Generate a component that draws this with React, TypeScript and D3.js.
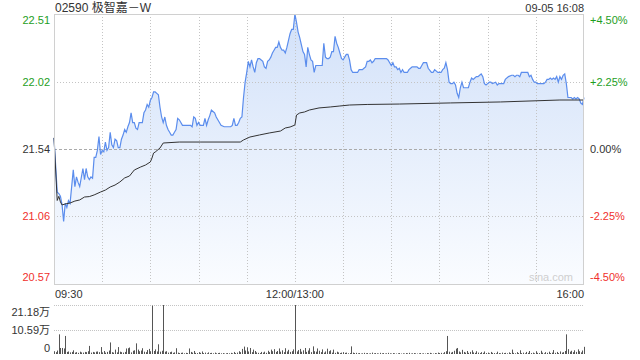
import React from "react";
import * as d3 from "d3";

const title = "02590 极智嘉－W";
const stamp = "09-05 16:08";
const prevClose = 21.54;
const priceTicks = [22.51, 22.02, 21.54, 21.06, 20.57];
const pctTicks = ["+4.50%", "+2.25%", "0.00%", "-2.25%", "-4.50%"];
const timeLabels = ["09:30", "12:00/13:00", "16:00"];
const volTicks = [21.18, 10.59, 0];
const volTickLabels = ["21.18万", "10.59万", "0"];

const priceMin = [0,2,3,4,5,6,7,8,9,10,12,13,14,15,16,18,19,20,21,22,23,24,25,26,27,28,29,30,31,32,33,34,35,36,37,38,39,40,41,42,43,44,45,46,47,48,49,50,51,52,53,55,56,57,58,59,60,61,62,63,64,65,66,67,68,69,70,71,72,73,74,75,76,77,78,80,83,85,86,87,88,89,90,91,93,94,95,96,97,98,99,100,101,102,103,104,106,110,111,112,113,114,115,116,117,118,119,120,121,122,123,124,125,126,127,128,129,130,131,132,133,134,135,136,137,138,139,140,141,142,143,144,145,146,147,148,149,150,151,152,153,154,155,156,157,158,159,160,161,162,163,164,166,167,168,169,170,171,172,173,174,175,176,177,178,179,180,181,182,183,184,185,186,187,189,190,192,193,194,195,196,197,198,199,200,201,207,208,209,210,211,212,213,214,215,216,217,218,220,221,222,223,225,226,227,228,229,230,232,233,235,236,237,239,241,242,243,244,245,246,247,248,249,250,251,252,253,254,255,256,257,258,259,260,261,262,263,264,265,266,267,268,269,270,271,272,273,275,276,277,278,280,281,283,285,286,287,288,289,290,291,292,294,295,296,297,298,299,300,301,305,306,307,308,309,310,311,312,313,314,315,316,317,318,319,320,321,322,323,324,325,326,327,328,329,330];
const priceVal = [21.62,21.23,21.22,21.20,21.14,21.02,21.15,21.12,21.17,21.15,21.39,21.27,21.34,21.30,21.27,21.40,21.32,21.40,21.34,21.32,21.34,21.33,21.48,21.48,21.53,21.63,21.50,21.53,21.52,21.59,21.53,21.55,21.66,21.57,21.55,21.61,21.60,21.55,21.55,21.61,21.64,21.68,21.66,21.70,21.73,21.80,21.73,21.73,21.69,21.68,21.73,21.73,21.80,21.82,21.86,21.84,21.89,21.91,21.95,21.95,21.94,21.93,21.84,21.77,21.73,21.77,21.71,21.68,21.66,21.64,21.64,21.66,21.68,21.76,21.75,21.71,21.71,21.71,21.70,21.77,21.76,21.71,21.73,21.71,21.71,21.76,21.71,21.75,21.78,21.82,21.81,21.80,21.77,21.75,21.73,21.71,21.70,21.70,21.71,21.76,21.71,21.71,21.73,21.76,21.77,21.91,22.02,22.09,22.17,22.13,22.18,22.13,22.09,22.16,22.19,22.19,22.18,22.17,22.13,22.12,22.17,22.18,22.20,22.23,22.25,22.27,22.27,22.31,22.27,22.25,22.25,22.23,22.27,22.32,22.37,22.40,22.40,22.51,22.45,22.38,22.34,22.29,22.24,22.22,22.13,22.27,22.22,22.18,22.17,22.09,22.14,22.14,22.14,22.14,22.30,22.20,22.19,22.19,22.20,22.24,22.24,22.35,22.30,22.27,22.23,22.19,22.18,22.20,22.22,22.22,22.18,22.11,22.09,22.09,22.09,22.11,22.11,22.12,22.13,22.17,22.17,22.18,22.16,22.17,22.19,22.19,22.19,22.18,22.16,22.14,22.16,22.13,22.13,22.11,22.12,22.09,22.11,22.09,22.09,22.11,22.12,22.13,22.13,22.13,22.12,22.12,22.14,22.16,22.16,22.12,22.09,22.09,22.11,22.09,22.09,22.11,22.12,22.16,22.11,22.02,22.01,22.01,22.02,22.00,21.94,21.91,21.98,22.02,21.98,21.98,21.98,21.98,22.02,22.05,22.04,22.05,22.06,22.06,22.07,22.08,22.06,22.01,22.00,22.01,22.02,22.02,22.01,22.02,22.00,22.01,22.01,22.01,22.04,22.06,22.07,22.07,22.06,22.07,22.07,22.06,22.09,22.09,22.09,22.09,22.06,22.07,22.04,22.02,22.02,22.01,22.01,22.02,22.04,22.04,22.05,22.04,22.05,22.04,22.06,22.02,22.06,22.04,22.07,22.08,22.01,21.91,21.91,21.91,21.90,21.91,21.90,21.91,21.90,21.87,21.86,21.91];

const avgMin = [0,2,3,4,5,7,10,13,16,19,22,25,29,32,35,38,41,44,47,50,54,57,60,61,62,63,66,68,78,91,116,118,122,128,134,141,144,147,150,151,153,156,159,165,172,178,184,195,215,247,278,315,330];
const avgVal = [21.62,21.17,21.2,21.16,21.138,21.145,21.152,21.166,21.174,21.195,21.198,21.21,21.231,21.245,21.267,21.281,21.303,21.332,21.346,21.389,21.411,21.425,21.447,21.475,21.511,21.518,21.547,21.583,21.59,21.59,21.59,21.605,21.626,21.641,21.655,21.669,21.691,21.698,21.712,21.784,21.799,21.806,21.82,21.835,21.842,21.849,21.856,21.86,21.863,21.871,21.878,21.892,21.892];

// volume per minute, in 万
const volume = [
1.2,0.8,1.5,8.5,2.6,2.6,2.4,7.8,0.9,1.1,
0.7,0.9,1.6,0.6,0.8,0.5,1.0,0.7,0.6,0.9,
0.8,1.2,3.5,0.6,0.9,0.7,1.0,1.1,0.8,3.0,
0.7,1.3,0.6,0.9,1.5,5.0,0.8,0.6,1.9,0.7,
3.0,1.0,0.8,0.6,0.9,2.4,2.5,2.8,0.7,1.4,
1.6,4.6,1.9,1.2,1.5,2.5,1.0,0.8,1.7,2.2,
1.2,20.9,1.3,2.0,1.1,4.2,1.0,1.4,21.18,1.0,
1.2,0.6,0.8,1.0,0.5,0.7,2.5,0.6,0.4,0.5,
0.6,0.3,0.5,0.4,2.4,0.9,0.6,1.3,0.5,0.4,
0.8,0.5,1.1,0.4,0.6,0.3,0.7,0.4,0.5,0.3,
0.6,0.3,0.4,0.5,0.3,0.4,0.2,0.3,0.4,0.3,
0.5,0.3,0.9,0.4,0.6,1.2,0.8,2.2,3.2,1.5,
2.9,1.1,2.6,0.8,1.9,1.3,0.7,0.5,0.4,0.9,
0.6,1.0,0.5,1.4,0.8,1.9,1.2,2.1,0.9,1.3,
2.4,1.0,1.6,0.8,2.5,1.1,1.8,0.9,1.2,2.0,
21.18,1.1,1.7,2.2,1.0,1.6,2.6,0.9,1.5,2.5,
0.8,3.3,1.2,1.0,2.4,1.4,0.8,2.0,0.6,1.1,
2.3,1.2,1.6,0.6,1.9,0.5,1.0,0.7,0.4,0.6,
0.8,0.5,0.6,0.3,0.4,3.3,0.6,0.4,0.5,0.3,
0.4,0.2,0.3,0.5,0.3,0.4,0.2,0.3,0.6,0.3,
0.4,0.3,0.2,0.5,0.3,0.4,0.2,0.3,0.5,0.3,
0.2,0.4,0.3,0.2,0.3,0.4,0.2,0.3,0.2,0.4,
0.3,0.5,0.2,0.3,0.4,0.3,0.2,0.3,0.4,0.2,
0.3,0.2,0.4,0.3,0.5,0.3,0.2,0.4,0.3,0.6,
0.4,0.5,0.3,0.8,1.2,7.8,1.0,0.6,0.9,1.4,
2.3,2.6,1.1,0.7,1.8,0.9,0.6,1.3,0.5,0.9,
1.6,0.7,0.5,1.2,0.6,0.4,0.8,0.5,1.1,0.4,
0.6,0.3,0.9,0.5,0.4,0.3,1.0,0.4,0.3,0.6,
0.4,0.5,0.3,0.7,0.4,1.9,0.5,0.3,0.8,0.4,
1.6,0.4,0.6,0.3,0.9,0.5,1.3,0.4,0.6,0.3,
1.2,0.5,0.4,1.4,0.6,0.3,0.8,0.5,1.0,0.4,
0.6,1.7,0.5,0.9,0.4,1.1,0.6,0.8,1.3,8.5,
2.1,1.0,1.4,0.8,1.6,0.9,2.0,1.2,0.7,1.5,
3.1
];

const FONT = "'Liberation Sans', Arial, 'Noto Sans CJK SC', sans-serif";
const GREEN = "#1e9e1e";
const RED = "#f0302c";
const TEXT = "#333";

export default function App() {
  const L = 54, R = 584, T = 14, B = 284;
  const VT = 305, VB = 354;
  const x = d3.scaleLinear().domain([0, 330]).range([L, R]);
  const y = d3.scaleLinear().domain([priceTicks[4], priceTicks[0]]).range([B, T]);
  const yv = d3.scaleLinear().domain([0, volTicks[0]]).range([VB, VT]);

  const pts = priceMin.map((m, i) => [m, priceVal[i]] as [number, number]);
  const avgPts = avgMin.map((m, i) => [m, avgVal[i]] as [number, number]);
  const line = d3.line<[number, number]>().x(d => x(d[0])).y(d => y(d[1]));
  const area = d3.area<[number, number]>().x(d => x(d[0])).y0(B).y1(d => y(d[1]));

  const vgrid = d3.range(0, 331, 30);
  const colorFor = (v: number) => (Math.abs(v - prevClose) < 0.005 ? TEXT : v > prevClose ? GREEN : RED);
  const clampBase = (v: number, lo: number, hi: number) => Math.min(Math.max(v, lo), hi);

  return (
    <svg width={640} height={360} style={{ position: "absolute", left: 0, top: 0, background: "#fff" }} fontFamily={FONT}>
      <defs>
        <linearGradient id="fillg" gradientUnits="userSpaceOnUse" x1="0" y1={T} x2="0" y2={B}>
          <stop offset="0%" stopColor="#d2e1f9" />
          <stop offset="100%" stopColor="#fafcff" />
        </linearGradient>
      </defs>
      <text x={L + 1} y={12} fontSize={12} fill={TEXT}>{title}</text>
      <text x={R} y={12} fontSize={11} fill={TEXT} textAnchor="end">{stamp}</text>

      <path d={area(pts) || ""} fill="url(#fillg)" />

      {/* grid over fill */}
      {vgrid.slice(1, -1).map(m => (
        <line key={"vg" + m} x1={Math.round(x(m)) + 0.5} x2={Math.round(x(m)) + 0.5} y1={T} y2={B} stroke="#c4c4c4" strokeDasharray="1,2" />
      ))}
      {priceTicks.slice(1, -1).map(v => (
        <line key={"hg" + v} x1={L} x2={R} y1={Math.round(y(v)) + 0.5} y2={Math.round(y(v)) + 0.5}
          stroke={v === prevClose ? "#aaaaaa" : "#c4c4c4"} strokeDasharray={v === prevClose ? "3,2" : "1,2"} />
      ))}

      <path d={line(pts) || ""} fill="none" stroke="#5b8ded" strokeWidth={1.2} />
      <path d={line(avgPts) || ""} fill="none" stroke="#333" strokeWidth={1} />

      <rect x={L + 0.5} y={T + 0.5} width={R - L - 1} height={B - T} fill="none" stroke="#d0d0d0" />

      {priceTicks.map((v) => (
        <text key={"pl" + v} x={50} y={clampBase(y(v) + 4, 24, 281)} fontSize={11} fill={colorFor(v)} textAnchor="end">{v.toFixed(2)}</text>
      ))}
      {pctTicks.map((s, i) => (
        <text key={"pr" + s} x={590} y={clampBase(y(priceTicks[i]) + 4, 24, 281)} fontSize={11} fill={colorFor(priceTicks[i])}>{s}</text>
      ))}
      <text x={573} y={281} fontSize={11} fill="#cfcfcf" textAnchor="end">sina.com</text>

      <text x={L + 1} y={298} fontSize={11} fill={TEXT}>{timeLabels[0]}</text>
      <text x={x(150)} y={298} fontSize={11} fill={TEXT} textAnchor="middle">{timeLabels[1]}</text>
      <text x={R} y={298} fontSize={11} fill={TEXT} textAnchor="end">{timeLabels[2]}</text>

      {/* volume */}
      {volTicks.slice(0, 2).map(v => (
        <line key={"vl" + v} x1={L} x2={R} y1={Math.round(yv(v)) + 0.5} y2={Math.round(yv(v)) + 0.5} stroke="#c4c4c4" strokeDasharray="1,1" />
      ))}
      {volume.map((v, i) => (
        <rect key={"vb" + i} x={Math.round(x(i))} y={yv(v)} width={1} height={VB - yv(v)} fill="#555" />
      ))}
      {volTicks.map((v, i) => (
        <text key={"vt" + v} x={50} y={clampBase(yv(v) + 4, 316, 352)} fontSize={11} fill={TEXT} textAnchor="end">{volTickLabels[i]}</text>
      ))}
    </svg>
  );
}
